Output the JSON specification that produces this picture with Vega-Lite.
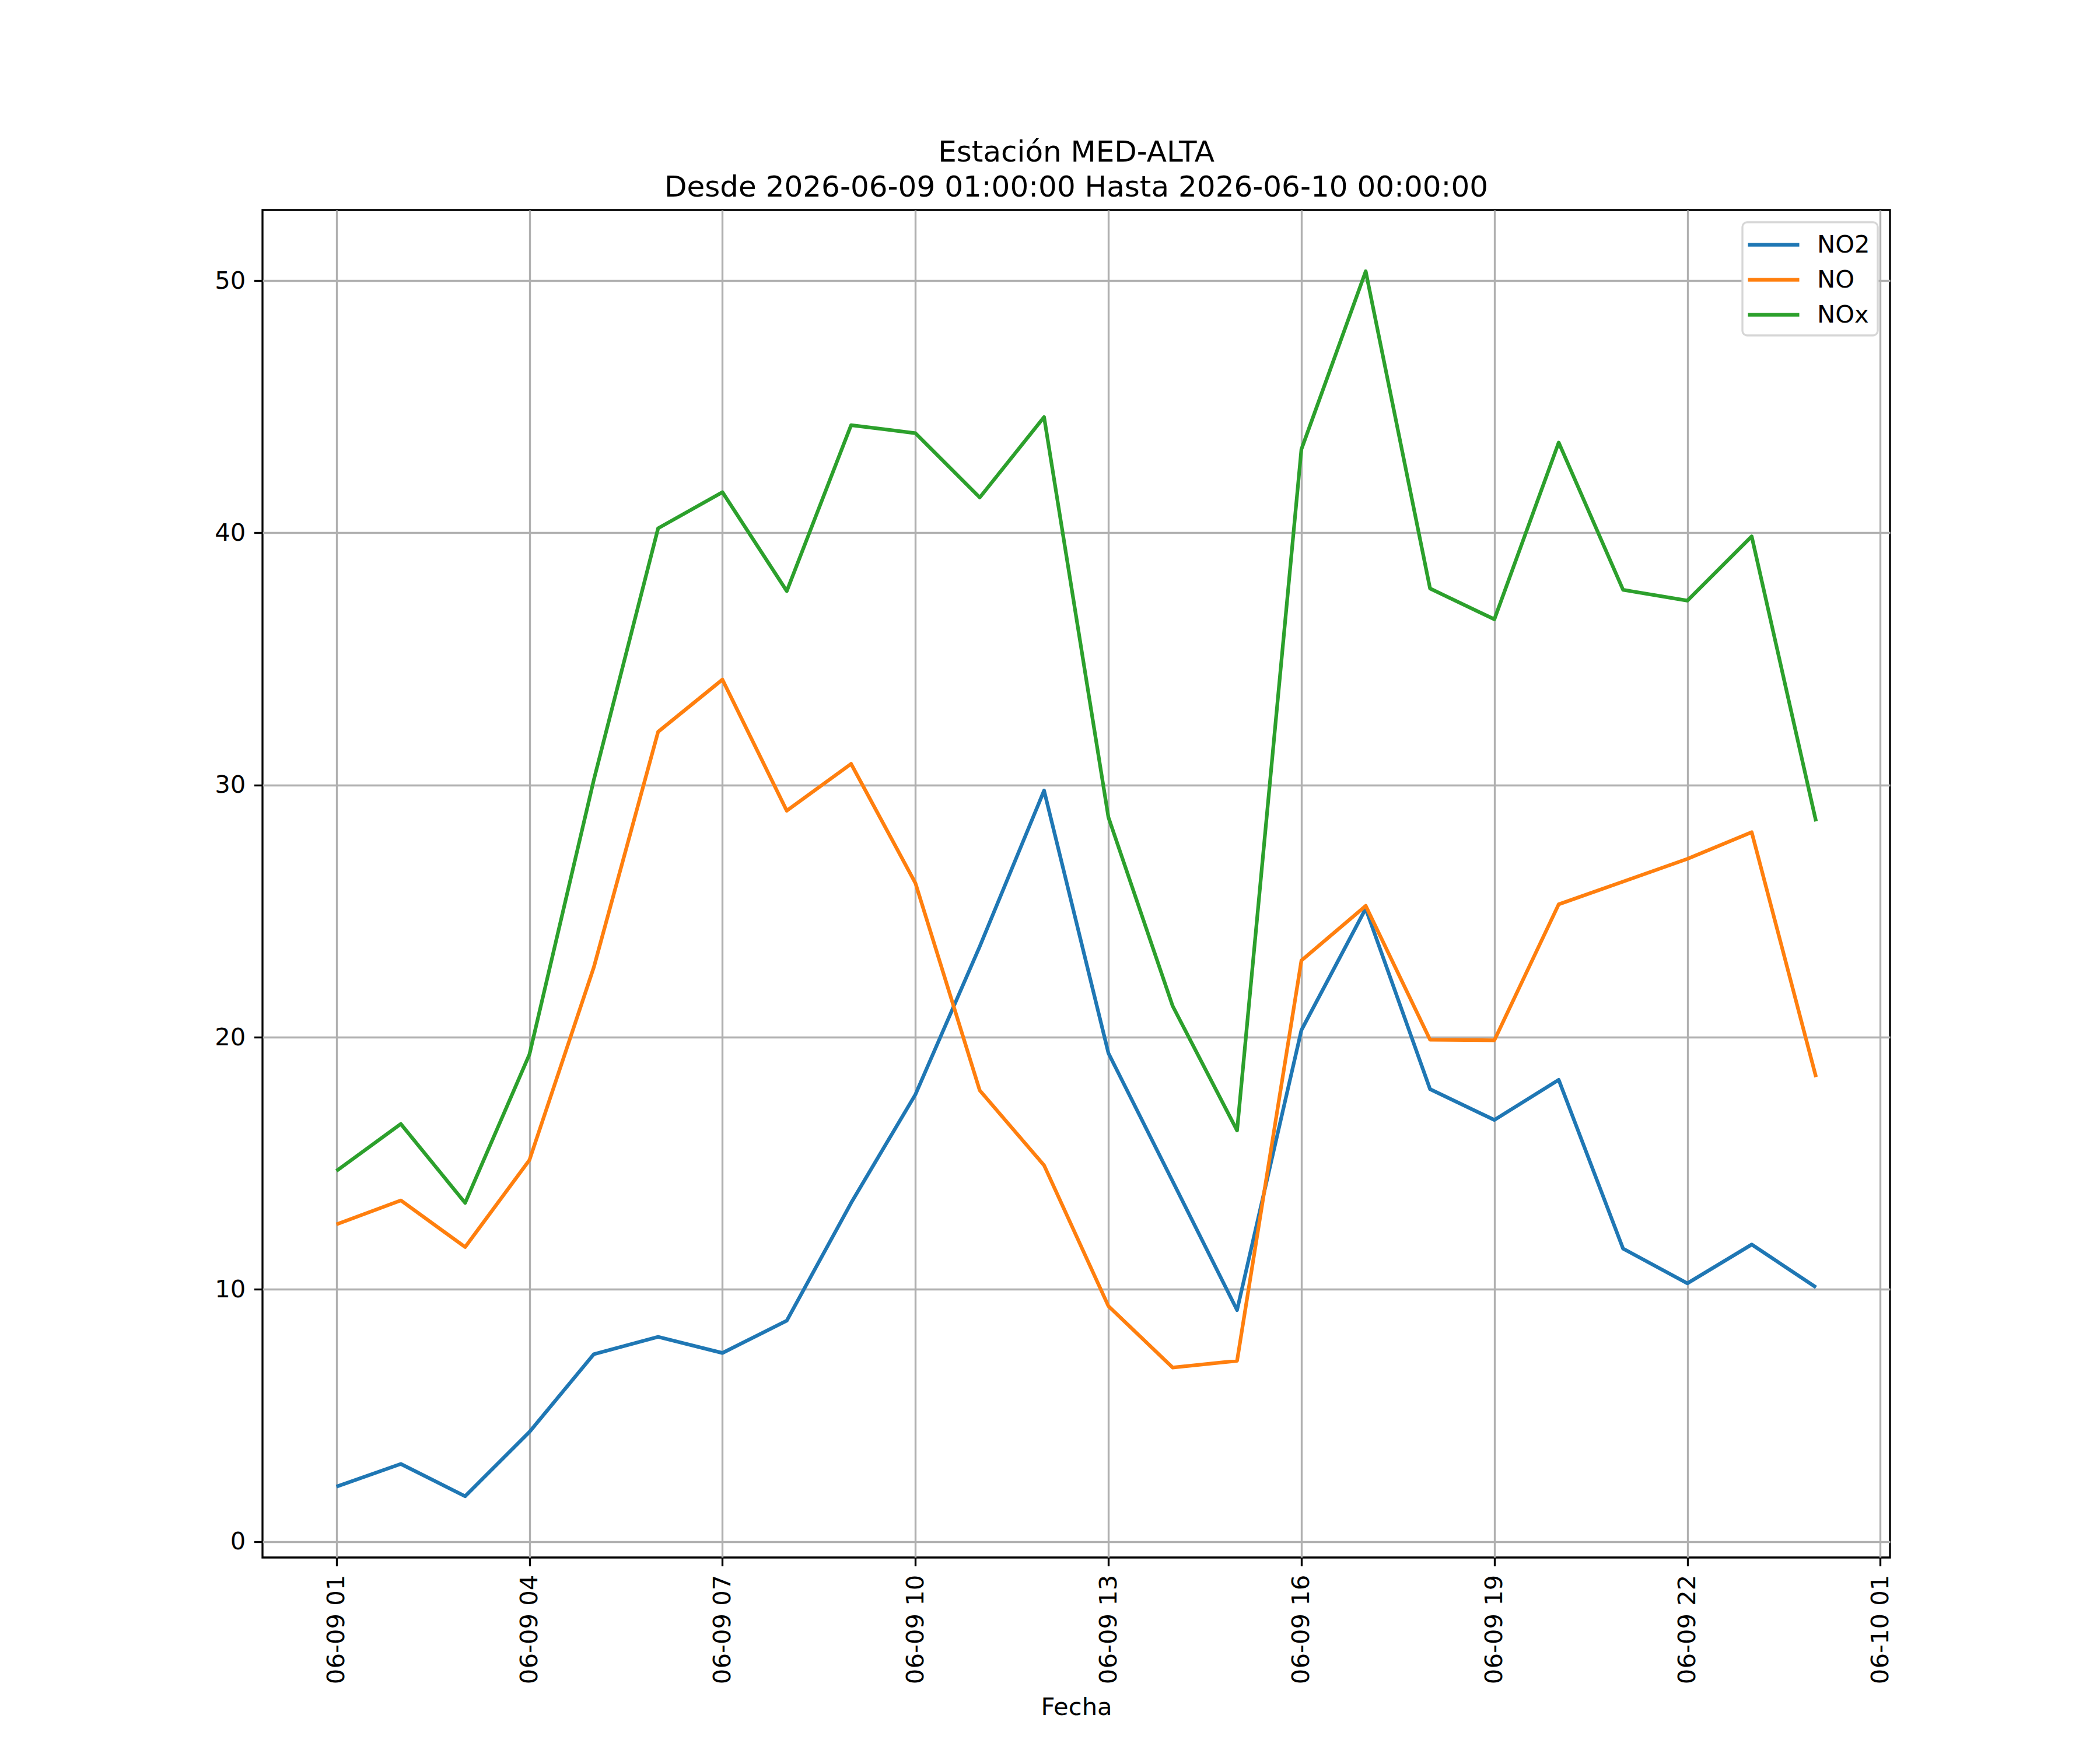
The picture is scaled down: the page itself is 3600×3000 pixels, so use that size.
{
  "$schema": "https://vega.github.io/schema/vega-lite/v6.json",
  "width": 2790,
  "height": 2310,
  "autosize": {"type": "none"},
  "padding": {"left": 450, "top": 360, "right": 360, "bottom": 330},
  "background": "white",
  "title": {
    "text": ["Estación MED-ALTA", "Desde 2026-06-09 01:00:00 Hasta 2026-06-10 00:00:00"],
    "font": "DejaVu Sans",
    "fontSize": 50,
    "fontWeight": "normal",
    "lineHeight": 60,
    "offset": 13,
    "color": "black",
    "anchor": "middle"
  },
  "config": {
    "view": {"stroke": "black", "strokeWidth": 3.33},
    "font": "DejaVu Sans"
  },
  "data": {
    "values": [
      {"fecha": "2026-06-09T01:00:00Z", "contaminante": "NO2", "valor": 2.18},
      {"fecha": "2026-06-09T02:00:00Z", "contaminante": "NO2", "valor": 3.08},
      {"fecha": "2026-06-09T03:00:00Z", "contaminante": "NO2", "valor": 1.80},
      {"fecha": "2026-06-09T04:00:00Z", "contaminante": "NO2", "valor": 4.35},
      {"fecha": "2026-06-09T05:00:00Z", "contaminante": "NO2", "valor": 7.43},
      {"fecha": "2026-06-09T06:00:00Z", "contaminante": "NO2", "valor": 8.12},
      {"fecha": "2026-06-09T07:00:00Z", "contaminante": "NO2", "valor": 7.48},
      {"fecha": "2026-06-09T08:00:00Z", "contaminante": "NO2", "valor": 8.76},
      {"fecha": "2026-06-09T09:00:00Z", "contaminante": "NO2", "valor": 13.43},
      {"fecha": "2026-06-09T10:00:00Z", "contaminante": "NO2", "valor": 17.73},
      {"fecha": "2026-06-09T11:00:00Z", "contaminante": "NO2", "valor": 23.6},
      {"fecha": "2026-06-09T12:00:00Z", "contaminante": "NO2", "valor": 29.78},
      {"fecha": "2026-06-09T13:00:00Z", "contaminante": "NO2", "valor": 19.37},
      {"fecha": "2026-06-09T14:00:00Z", "contaminante": "NO2", "valor": 14.28},
      {"fecha": "2026-06-09T15:00:00Z", "contaminante": "NO2", "valor": 9.18},
      {"fecha": "2026-06-09T16:00:00Z", "contaminante": "NO2", "valor": 20.28},
      {"fecha": "2026-06-09T17:00:00Z", "contaminante": "NO2", "valor": 25.1},
      {"fecha": "2026-06-09T18:00:00Z", "contaminante": "NO2", "valor": 17.94},
      {"fecha": "2026-06-09T19:00:00Z", "contaminante": "NO2", "valor": 16.72},
      {"fecha": "2026-06-09T20:00:00Z", "contaminante": "NO2", "valor": 18.31},
      {"fecha": "2026-06-09T21:00:00Z", "contaminante": "NO2", "valor": 11.62},
      {"fecha": "2026-06-09T22:00:00Z", "contaminante": "NO2", "valor": 10.24},
      {"fecha": "2026-06-09T23:00:00Z", "contaminante": "NO2", "valor": 11.78},
      {"fecha": "2026-06-10T00:00:00Z", "contaminante": "NO2", "valor": 10.08},
      {"fecha": "2026-06-09T01:00:00Z", "contaminante": "NO", "valor": 12.58},
      {"fecha": "2026-06-09T02:00:00Z", "contaminante": "NO", "valor": 13.53},
      {"fecha": "2026-06-09T03:00:00Z", "contaminante": "NO", "valor": 11.68},
      {"fecha": "2026-06-09T04:00:00Z", "contaminante": "NO", "valor": 15.13},
      {"fecha": "2026-06-09T05:00:00Z", "contaminante": "NO", "valor": 22.77},
      {"fecha": "2026-06-09T06:00:00Z", "contaminante": "NO", "valor": 32.11},
      {"fecha": "2026-06-09T07:00:00Z", "contaminante": "NO", "valor": 34.18},
      {"fecha": "2026-06-09T08:00:00Z", "contaminante": "NO", "valor": 28.98},
      {"fecha": "2026-06-09T09:00:00Z", "contaminante": "NO", "valor": 30.84},
      {"fecha": "2026-06-09T10:00:00Z", "contaminante": "NO", "valor": 26.11},
      {"fecha": "2026-06-09T11:00:00Z", "contaminante": "NO", "valor": 17.89},
      {"fecha": "2026-06-09T12:00:00Z", "contaminante": "NO", "valor": 14.92},
      {"fecha": "2026-06-09T13:00:00Z", "contaminante": "NO", "valor": 9.34},
      {"fecha": "2026-06-09T14:00:00Z", "contaminante": "NO", "valor": 6.90},
      {"fecha": "2026-06-09T15:00:00Z", "contaminante": "NO", "valor": 7.17},
      {"fecha": "2026-06-09T16:00:00Z", "contaminante": "NO", "valor": 23.04},
      {"fecha": "2026-06-09T17:00:00Z", "contaminante": "NO", "valor": 25.21},
      {"fecha": "2026-06-09T18:00:00Z", "contaminante": "NO", "valor": 19.9},
      {"fecha": "2026-06-09T19:00:00Z", "contaminante": "NO", "valor": 19.88},
      {"fecha": "2026-06-09T20:00:00Z", "contaminante": "NO", "valor": 25.27},
      {"fecha": "2026-06-09T21:00:00Z", "contaminante": "NO", "valor": 26.17},
      {"fecha": "2026-06-09T22:00:00Z", "contaminante": "NO", "valor": 27.07},
      {"fecha": "2026-06-09T23:00:00Z", "contaminante": "NO", "valor": 28.13},
      {"fecha": "2026-06-10T00:00:00Z", "contaminante": "NO", "valor": 18.42},
      {"fecha": "2026-06-09T01:00:00Z", "contaminante": "NOx", "valor": 14.70},
      {"fecha": "2026-06-09T02:00:00Z", "contaminante": "NOx", "valor": 16.56},
      {"fecha": "2026-06-09T03:00:00Z", "contaminante": "NOx", "valor": 13.43},
      {"fecha": "2026-06-09T04:00:00Z", "contaminante": "NOx", "valor": 19.32},
      {"fecha": "2026-06-09T05:00:00Z", "contaminante": "NOx", "valor": 30.2},
      {"fecha": "2026-06-09T06:00:00Z", "contaminante": "NOx", "valor": 40.18},
      {"fecha": "2026-06-09T07:00:00Z", "contaminante": "NOx", "valor": 41.61},
      {"fecha": "2026-06-09T08:00:00Z", "contaminante": "NOx", "valor": 37.69},
      {"fecha": "2026-06-09T09:00:00Z", "contaminante": "NOx", "valor": 44.27},
      {"fecha": "2026-06-09T10:00:00Z", "contaminante": "NOx", "valor": 43.95},
      {"fecha": "2026-06-09T11:00:00Z", "contaminante": "NOx", "valor": 41.4},
      {"fecha": "2026-06-09T12:00:00Z", "contaminante": "NOx", "valor": 44.59},
      {"fecha": "2026-06-09T13:00:00Z", "contaminante": "NOx", "valor": 28.72},
      {"fecha": "2026-06-09T14:00:00Z", "contaminante": "NOx", "valor": 21.23},
      {"fecha": "2026-06-09T15:00:00Z", "contaminante": "NOx", "valor": 16.30},
      {"fecha": "2026-06-09T16:00:00Z", "contaminante": "NOx", "valor": 43.31},
      {"fecha": "2026-06-09T17:00:00Z", "contaminante": "NOx", "valor": 50.37},
      {"fecha": "2026-06-09T18:00:00Z", "contaminante": "NOx", "valor": 37.79},
      {"fecha": "2026-06-09T19:00:00Z", "contaminante": "NOx", "valor": 36.57},
      {"fecha": "2026-06-09T20:00:00Z", "contaminante": "NOx", "valor": 43.58},
      {"fecha": "2026-06-09T21:00:00Z", "contaminante": "NOx", "valor": 37.74},
      {"fecha": "2026-06-09T22:00:00Z", "contaminante": "NOx", "valor": 37.31},
      {"fecha": "2026-06-09T23:00:00Z", "contaminante": "NOx", "valor": 39.86},
      {"fecha": "2026-06-10T00:00:00Z", "contaminante": "NOx", "valor": 28.56}
    ]
  },
  "mark": {"type": "line", "strokeWidth": 6.25, "strokeJoin": "round", "clip": true},
  "encoding": {
    "x": {
      "field": "fecha",
      "type": "temporal",
      "scale": {
        "type": "utc",
        "domain": [
          {"year": 2026, "month": 6, "date": 8, "hours": 23, "minutes": 51, "utc": true},
          {"year": 2026, "month": 6, "date": 10, "hours": 1, "minutes": 9, "utc": true}
        ]
      },
      "axis": {
        "title": "Fecha",
        "titleFont": "DejaVu Sans",
        "titleFontSize": 41.7,
        "titleFontWeight": "normal",
        "titleColor": "black",
        "titlePadding": 36,
        "format": "%m-%d %H",
        "values": [
          {"year": 2026, "month": 6, "date": 9, "hours": 1, "utc": true},
          {"year": 2026, "month": 6, "date": 9, "hours": 4, "utc": true},
          {"year": 2026, "month": 6, "date": 9, "hours": 7, "utc": true},
          {"year": 2026, "month": 6, "date": 9, "hours": 10, "utc": true},
          {"year": 2026, "month": 6, "date": 9, "hours": 13, "utc": true},
          {"year": 2026, "month": 6, "date": 9, "hours": 16, "utc": true},
          {"year": 2026, "month": 6, "date": 9, "hours": 19, "utc": true},
          {"year": 2026, "month": 6, "date": 9, "hours": 22, "utc": true},
          {"year": 2026, "month": 6, "date": 10, "hours": 1, "utc": true}
        ],
        "labelAngle": -90,
        "labelFont": "DejaVu Sans",
        "labelFontSize": 41.7,
        "labelColor": "black",
        "labelPadding": 14.6,
        "labelLimit": 0,
        "labelFlush": false,
        "labelOverlap": false,
        "domain": false,
        "ticks": true,
        "tickColor": "black",
        "tickWidth": 3.33,
        "tickSize": 14.6,
        "grid": true,
        "gridColor": "#b0b0b0",
        "gridWidth": 3.33
      }
    },
    "y": {
      "field": "valor",
      "type": "quantitative",
      "scale": {"domain": [-0.63, 52.8], "nice": false, "zero": false},
      "axis": {
        "title": null,
        "values": [0, 10, 20, 30, 40, 50],
        "labelFont": "DejaVu Sans",
        "labelFontSize": 41.7,
        "labelColor": "black",
        "labelPadding": 14.6,
        "labelFlush": false,
        "domain": false,
        "tickColor": "black",
        "tickWidth": 3.33,
        "tickSize": 14.6,
        "grid": true,
        "gridColor": "#b0b0b0",
        "gridWidth": 3.33
      }
    },
    "color": {
      "field": "contaminante",
      "type": "nominal",
      "scale": {"domain": ["NO2", "NO", "NOx"], "range": ["#1f77b4", "#ff7f0e", "#2ca02c"]},
      "legend": {
        "title": null,
        "orient": "top-right",
        "offset": 21,
        "padding": 13,
        "fillColor": "white",
        "strokeColor": "#d6d6d6",
        "cornerRadius": 8,
        "symbolType": "M-2,0L2,0",
        "symbolSize": 1936,
        "symbolFillColor": "transparent",
        "symbolStrokeWidth": 6.25,
        "symbolOffset": 15,
        "labelFont": "DejaVu Sans",
        "labelFontSize": 41.7,
        "labelColor": "black",
        "labelOffset": 49,
        "rowPadding": 12,
        "encode": {"legend": {"update": {"strokeWidth": {"value": 3.33}}}}
      }
    }
  }
}
